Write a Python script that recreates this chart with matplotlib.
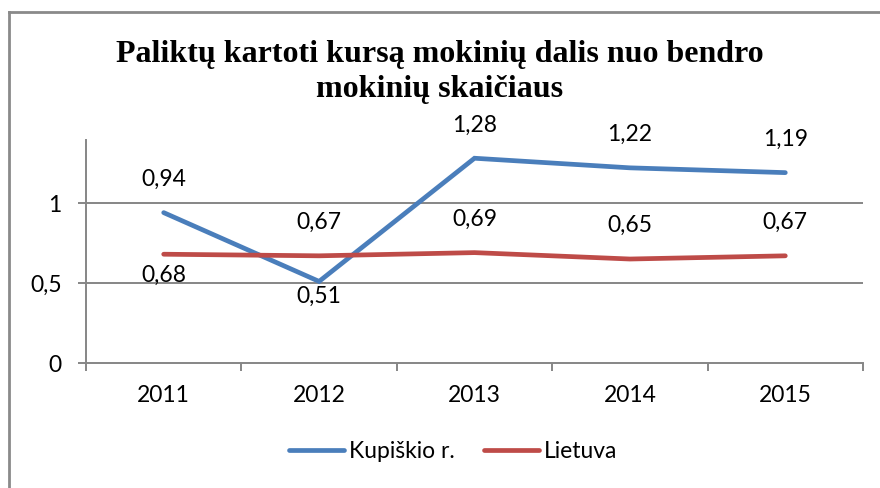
import matplotlib
matplotlib.use("Agg")
import matplotlib.pyplot as plt
from matplotlib.lines import Line2D

years = ["2011", "2012", "2013", "2014", "2015"]
kupiskio = [0.94, 0.51, 1.28, 1.22, 1.19]
lietuva = [0.68, 0.67, 0.69, 0.65, 0.67]
series_names = ["Kupiškio r.", "Lietuva"]
title = "Paliktų kartoti kursą mokinių dalis nuo bendro\nmokinių skaičiaus"

blue = "#4A7EBB"
red = "#BE4B48"
grid_c = "#868686"

plt.rcParams["font.family"] = ["Lato", "DejaVu Sans"]

fig = plt.figure(figsize=(8.8, 4.88), dpi=100)
ax = fig.add_axes([86 / 880, 1 - 363 / 488, (863 - 86) / 880, (363 - 140) / 488])

x = list(range(len(years)))
ax.plot(x, kupiskio, color=blue, lw=3.4, solid_capstyle="round", solid_joinstyle="miter", label=series_names[0])
ax.plot(x, lietuva, color=red, lw=3.4, solid_capstyle="round", solid_joinstyle="miter", label=series_names[1])

def lbl(v):
    return ("%.2f" % v).replace(".", ",")

# label offsets in points (above / below the point)
k_off = [24, -11, 24, 24, 24]
l_off = [-15, 24, 24, 24, 24]
for i in x:
    ax.annotate(lbl(kupiskio[i]), (i, kupiskio[i]), xytext=(0, k_off[i]), textcoords="offset points",
                ha="center", va="center", fontsize=16.5, color="black")
    ax.annotate(lbl(lietuva[i]), (i, lietuva[i]), xytext=(0, l_off[i]), textcoords="offset points",
                ha="center", va="center", fontsize=16.5, color="black")

ax.set_xlim(-0.5, len(years) - 0.5)
ax.set_ylim(0, 1.394)
ax.set_yticks([0, 0.5, 1])
ax.set_yticklabels(["0", "0,5", "1"])
for yv in [0.5, 1]:
    ax.axhline(yv, color=grid_c, lw=1.4, zorder=0)

ax.set_xticks(x)
ax.set_xticklabels(years)
ax.set_xticks([i - 0.5 for i in range(len(years) + 1)], minor=True)
ax.tick_params(axis="x", which="major", length=0, pad=16, labelsize=16.5)
ax.tick_params(axis="x", which="minor", length=5.5, width=1.4, color=grid_c)
ax.tick_params(axis="y", length=5.5, width=1.4, color=grid_c, pad=12, labelsize=16.5)

for s in ["top", "right"]:
    ax.spines[s].set_visible(False)
ax.spines["left"].set_color(grid_c)
ax.spines["bottom"].set_color(grid_c)
ax.spines["left"].set_linewidth(1.4)
ax.spines["bottom"].set_linewidth(1.4)

fig.text(0.5, 1 - 72 / 488, title, ha="center", va="center", fontsize=23,
         fontweight="bold", family=["Liberation Serif", "DejaVu Serif"], linespacing=1.3)

handles = [Line2D([], [], color=blue, lw=3.4, solid_capstyle="round"),
           Line2D([], [], color=red, lw=3.4, solid_capstyle="round")]
fig.legend(handles, series_names, loc="center", bbox_to_anchor=(0.515, 1 - 452 / 488), ncol=2,
           frameon=False, fontsize=16.5, handlelength=2.4, handletextpad=0.2, columnspacing=1.3)

# chart border (top and left visible)
fig.add_artist(Line2D([9 / 880, 1], [1 - 12 / 488, 1 - 12 / 488], transform=fig.transFigure, color="#8a8a8a", lw=2))
fig.add_artist(Line2D([9 / 880, 9 / 880], [0, 1 - 12 / 488], transform=fig.transFigure, color="#8a8a8a", lw=2))

fig.savefig("out.png", dpi=100)
